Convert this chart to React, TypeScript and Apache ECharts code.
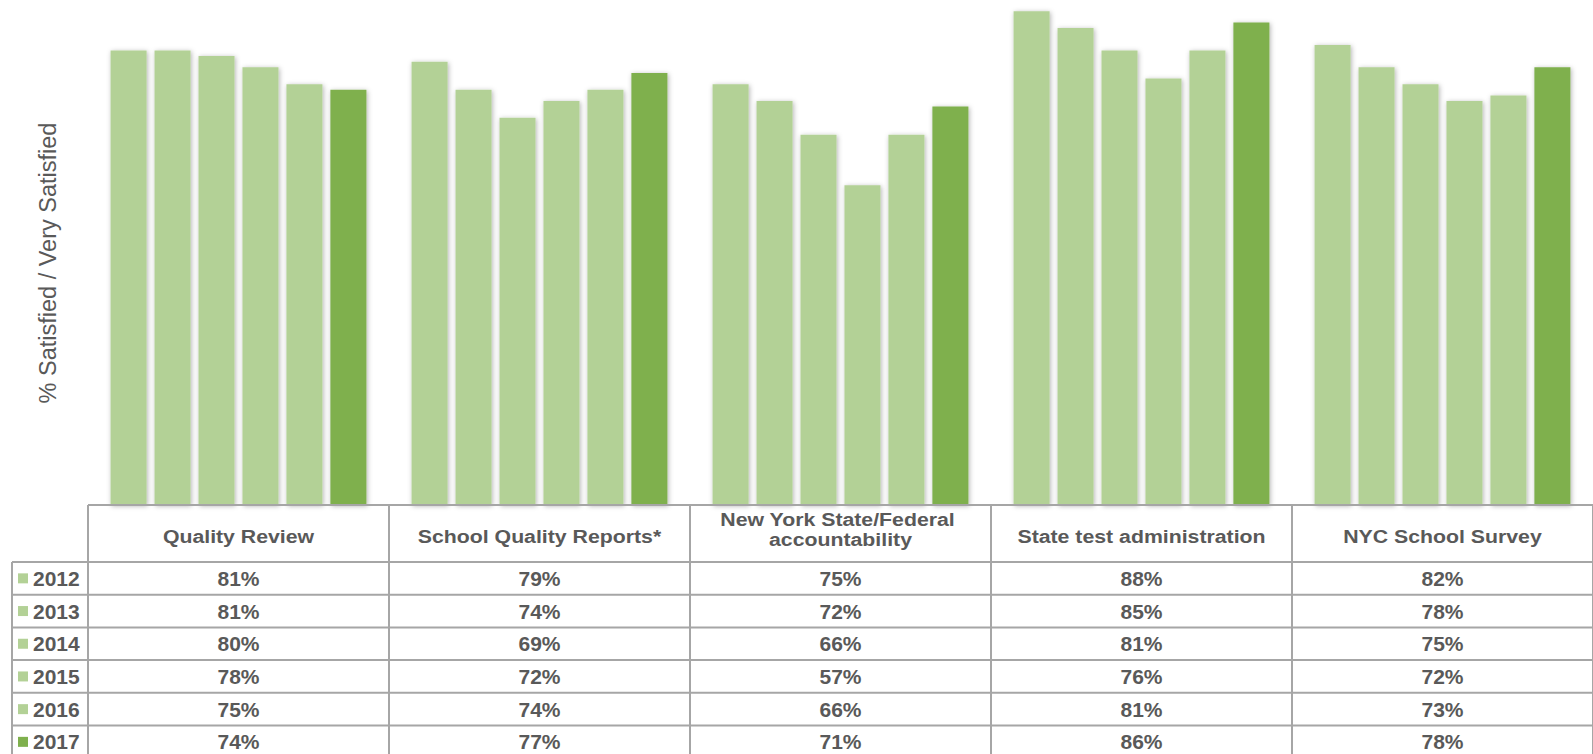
import React, { useEffect, useRef } from "react";
import * as echarts from "echarts";

const categories = [
  "Quality Review",
  "School Quality Reports*",
  "New York State/Federal accountability",
  "State test administration",
  "NYC School Survey",
];
const years = ["2012", "2013", "2014", "2015", "2016", "2017"];
const values2012 = [81, 79, 75, 88, 82];
const values2013 = [81, 74, 72, 85, 78];
const values2014 = [80, 69, 66, 81, 75];
const values2015 = [78, 72, 57, 76, 72];
const values2016 = [75, 74, 66, 81, 73];
const values2017 = [74, 77, 71, 86, 78];
const seriesValues = [values2012, values2013, values2014, values2015, values2016, values2017];
const yearColors = ["#B3D196", "#B3D196", "#B3D196", "#B3D196", "#B3D196", "#7FB04D"];
const yAxisTitle = "% Satisfied / Very Satisfied";

const W = 1593;
const H = 754;
const GRID_LEFT = 88;
const PLOT_BOTTOM = 505;
const HEADER_H = 57;
const ROW_H = 32.7;
const LABEL_LEFT = 12;
const LINE_COLOR = "#A6A6A6";
const TEXT_COLOR = "#595959";
const FONT = "'Liberation Sans', Arial, sans-serif";
const HEADER_FONT = `bold 19px ${FONT}`;
const HEADER_SCALE = 1.12;

export default function App() {
  const ref = useRef<HTMLDivElement>(null);

  useEffect(() => {
    if (!ref.current) return;
    const chart = echarts.init(ref.current, null, { renderer: "svg" });
    chart.setOption({
      animation: false,
      backgroundColor: "#ffffff",
      grid: { left: GRID_LEFT, right: 0, top: 0, bottom: H - PLOT_BOTTOM, containLabel: false },
      xAxis: {
        type: "category",
        data: categories,
        axisLine: { show: false },
        axisTick: { show: false },
        axisLabel: { show: false },
        splitLine: { show: false },
      },
      yAxis: {
        type: "value",
        min: 0,
        max: 90,
        axisLine: { show: false },
        axisTick: { show: false },
        axisLabel: { show: false },
        splitLine: { show: false },
      },
      series: years.map((y, i) => ({
        name: y,
        type: "bar",
        data: seriesValues[i],
        barGap: "22%",
        barCategoryGap: "15%",
        itemStyle: {
          color: yearColors[i],
          shadowBlur: 5,
          shadowColor: "rgba(0,0,0,0.3)",
          shadowOffsetX: 1,
          shadowOffsetY: 1,
        },
      })),
    });

    const centers = categories.map((c) => chart.convertToPixel({ xAxisIndex: 0 }, c) as number);
    const catW = centers.length > 1 ? centers[1] - centers[0] : W - GRID_LEFT;
    const bounds = [centers[0] - catW / 2, ...centers.map((c) => c + catW / 2)];
    const tableTop = PLOT_BOTTOM;
    const rowsTop = tableTop + HEADER_H;
    const tableBottom = rowsTop + ROW_H * years.length;
    const headerWrapW = catW - 60;

    const ctx = document.createElement("canvas").getContext("2d");
    const measure = (t: string) => {
      if (!ctx) return 0;
      ctx.font = HEADER_FONT;
      return ctx.measureText(t).width;
    };

    const line = (x1: number, y1: number, x2: number, y2: number) => ({
      type: "line",
      silent: true,
      shape: { x1, y1, x2, y2 },
      style: { stroke: LINE_COLOR, lineWidth: 2 },
      z: 10,
    });

    const graphics: any[] = [];
    graphics.push(line(bounds[0], tableTop, W + 2, tableTop));
    for (let r = 0; r <= years.length; r++) {
      const y = rowsTop + ROW_H * r;
      graphics.push(line(LABEL_LEFT, y, W + 2, y));
    }
    bounds.forEach((x) => graphics.push(line(x, tableTop, x, tableBottom)));
    graphics.push(line(LABEL_LEFT, rowsTop, LABEL_LEFT, tableBottom));

    categories.forEach((c, i) => {
      const wraps = measure(c) > headerWrapW;
      graphics.push({
        type: "text",
        silent: true,
        x: centers[i],
        y: tableTop + HEADER_H / 2 + (wraps ? -4 : 3),
        z: 11,
        style: {
          text: c,
          fill: TEXT_COLOR,
          font: HEADER_FONT,
          align: "center",
          verticalAlign: "middle",
          width: headerWrapW,
          overflow: "break",
          lineHeight: 20,
        },
        scaleX: HEADER_SCALE,
      });
    });

    years.forEach((yr, r) => {
      const cy = rowsTop + ROW_H * (r + 0.5);
      graphics.push({
        type: "rect",
        silent: true,
        shape: { x: 18, y: cy - 5, width: 10, height: 10 },
        style: { fill: yearColors[r] },
        z: 11,
      });
      graphics.push({
        type: "text",
        silent: true,
        x: 33,
        y: cy,
        z: 11,
        style: {
          text: yr,
          fill: TEXT_COLOR,
          font: `bold 21px ${FONT}`,
          align: "left",
          verticalAlign: "middle",
        },
      });
      seriesValues[r].forEach((v, i) => {
        graphics.push({
          type: "text",
          silent: true,
          x: centers[i],
          y: cy,
          z: 11,
          style: {
            text: `${v}%`,
            fill: TEXT_COLOR,
            font: `bold 21px ${FONT}`,
            align: "center",
            verticalAlign: "middle",
          },
        });
      });
    });

    graphics.push({
      type: "text",
      silent: true,
      x: 48,
      y: 263,
      rotation: Math.PI / 2,
      z: 11,
      style: {
        text: yAxisTitle,
        fill: TEXT_COLOR,
        font: `23.5px ${FONT}`,
        align: "center",
        verticalAlign: "middle",
      },
    });

    chart.setOption({ graphic: graphics });

    return () => chart.dispose();
  }, []);

  return (
    <div
      ref={ref}
      style={{ position: "absolute", left: 0, top: 0, width: W, height: H, background: "#fff" }}
    />
  );
}
